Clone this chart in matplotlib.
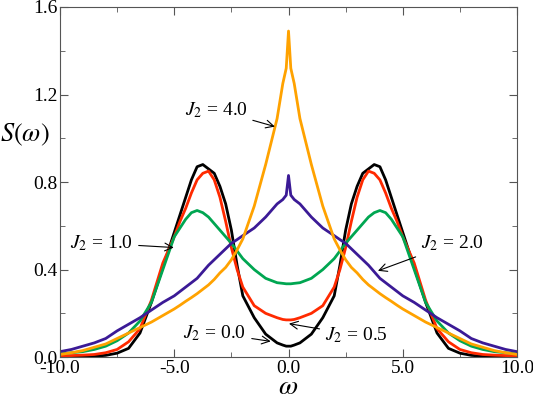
import matplotlib
matplotlib.use('Agg')
import matplotlib.pyplot as plt
from matplotlib.ticker import MultipleLocator, FormatStrFormatter

plt.rcParams['font.family'] = ['Liberation Serif', 'DejaVu Serif']
plt.rcParams['mathtext.fontset'] = 'stix'

# omega grid
w = [-10.0, -9.5, -9.0, -8.5, -8.0, -7.5, -7.0, -6.5, -6.0, -5.5, -5.0,
     -4.75, -4.5, -4.25, -4.0, -3.75, -3.5, -3.25, -3.0, -2.75, -2.5, -2.25,
     -2.0, -1.5, -1.0, -0.5, -0.25, -0.1,
     0.0,
     0.1, 0.25, 0.5, 1.0, 1.5, 2.0, 2.25, 2.5, 2.75, 3.0, 3.25, 3.5, 3.75,
     4.0, 4.25, 4.5, 4.75, 5.0, 5.5, 6.0, 6.5, 7.0, 7.5, 8.0, 8.5, 9.0, 9.5,
     10.0]

s_j00 = [0.001, 0.001, 0.002, 0.004, 0.008, 0.018, 0.04, 0.11, 0.25, 0.41, 0.57,
         0.65, 0.73, 0.81, 0.87, 0.88, 0.86, 0.84, 0.78, 0.70, 0.58, 0.42,
         0.28, 0.18, 0.105, 0.065, 0.055, 0.05,
         0.05,
         0.05, 0.055, 0.065, 0.105, 0.18, 0.28, 0.42, 0.58, 0.70, 0.78, 0.84,
         0.86, 0.88, 0.87, 0.81, 0.73, 0.65, 0.57, 0.41, 0.25, 0.11, 0.04,
         0.018, 0.008, 0.004, 0.002, 0.001, 0.001]

s_j05 = [0.006, 0.007, 0.009, 0.012, 0.02, 0.035, 0.07, 0.13, 0.26, 0.43, 0.55,
         0.62, 0.68, 0.75, 0.81, 0.84, 0.85, 0.81, 0.73, 0.62, 0.50, 0.40,
         0.32, 0.235, 0.20, 0.18, 0.172, 0.17,
         0.17,
         0.17, 0.172, 0.18, 0.20, 0.235, 0.32, 0.40, 0.50, 0.62, 0.73, 0.81,
         0.85, 0.84, 0.81, 0.75, 0.68, 0.62, 0.55, 0.43, 0.26, 0.13, 0.07,
         0.035, 0.02, 0.012, 0.009, 0.007, 0.006]

s_j10 = [0.015, 0.02, 0.025, 0.035, 0.05, 0.075, 0.11, 0.165, 0.25, 0.40, 0.55,
         0.59, 0.63, 0.66, 0.67, 0.66, 0.64, 0.61, 0.58, 0.55, 0.52, 0.485,
         0.45, 0.40, 0.36, 0.34, 0.337, 0.335,
         0.335,
         0.335, 0.337, 0.34, 0.36, 0.40, 0.45, 0.485, 0.52, 0.55, 0.58, 0.61,
         0.64, 0.66, 0.67, 0.66, 0.63, 0.59, 0.55, 0.40, 0.25, 0.165, 0.11,
         0.075, 0.05, 0.035, 0.025, 0.02, 0.015]

s_j20 = [0.025, 0.035, 0.05, 0.065, 0.085, 0.12, 0.15, 0.18, 0.215, 0.25, 0.28,
         0.30, 0.32, 0.34, 0.36, 0.39, 0.42, 0.445, 0.47, 0.495, 0.52, 0.537,
         0.555, 0.59, 0.64, 0.70, 0.72, 0.74,
         0.83,
         0.74, 0.72, 0.70, 0.64, 0.59, 0.555, 0.537, 0.52, 0.495, 0.47, 0.445,
         0.42, 0.39, 0.36, 0.34, 0.32, 0.30, 0.28, 0.25, 0.215, 0.18, 0.15,
         0.12, 0.085, 0.065, 0.05, 0.035, 0.025]

s_j40 = [0.012, 0.02, 0.03, 0.045, 0.06, 0.085, 0.11, 0.135, 0.16, 0.19, 0.22,
         0.237, 0.255, 0.272, 0.29, 0.31, 0.33, 0.355, 0.385, 0.41, 0.445, 0.49,
         0.54, 0.69, 0.88, 1.09, 1.25, 1.32,
         1.49,
         1.32, 1.25, 1.09, 0.88, 0.69, 0.54, 0.49, 0.445, 0.41, 0.385, 0.355,
         0.33, 0.31, 0.29, 0.272, 0.255, 0.237, 0.22, 0.19, 0.16, 0.135, 0.11,
         0.085, 0.06, 0.045, 0.03, 0.02, 0.012]

x_ticks = [-10.0, -5.0, 0.0, 5.0, 10.0]
y_ticks = [0.0, 0.4, 0.8, 1.2, 1.6]

fig = plt.figure(figsize=(5.33, 3.99), dpi=100)
ax = fig.add_axes([0.1126, 0.105, 0.8574, 0.8775])

ax.plot(w, s_j00, color='black', lw=2)
ax.plot(w, s_j05, color='#ff2a00', lw=2)
ax.plot(w, s_j10, color='#00a651', lw=2)
ax.plot(w, s_j20, color='#3b1a96', lw=2)
ax.plot(w, s_j40, color='#ffa200', lw=2)

ax.set_xlim(-10, 10)
ax.set_ylim(0, 1.6)
ax.set_xticks(x_ticks)
ax.set_yticks(y_ticks)
ax.xaxis.set_major_formatter(FormatStrFormatter('%.1f'))
ax.yaxis.set_major_formatter(FormatStrFormatter('%.1f'))
ax.xaxis.set_minor_locator(MultipleLocator(2.5))
ax.yaxis.set_minor_locator(MultipleLocator(0.2))
ax.tick_params(which='both', direction='in', top=True, right=True,
               colors='#555555', labelcolor='black', labelsize=14)
ax.tick_params(which='major', length=6, pad=2)
ax.tick_params(which='minor', length=3.5)
for sp in ax.spines.values():
    sp.set_color('#555555')

ax.text(-0.078, 0.635, r'$S(\omega)$', transform=ax.transAxes, fontsize=19,
        ha='center', va='center')
ax.text(0.5, -0.088, r'$\omega$', transform=ax.transAxes, fontsize=20,
        ha='center', va='center')

arw = dict(arrowstyle='->', color='black', lw=0.8)
ax.annotate(r'$J_2$ = 4.0', xy=(-0.48, 1.05), xytext=(-1.8, 1.13),
            fontsize=14, ha='right', va='center', arrowprops=arw)
ax.annotate(r'$J_2$ = 1.0', xy=(-4.9, 0.50), xytext=(-6.8, 0.52),
            fontsize=14, ha='right', va='center', arrowprops=arw)
ax.annotate(r'$J_2$ = 0.0', xy=(-0.66, 0.07), xytext=(-1.85, 0.11),
            fontsize=14, ha='right', va='center', arrowprops=arw)
ax.annotate(r'$J_2$ = 0.5', xy=(-0.1, 0.155), xytext=(1.6, 0.10),
            fontsize=14, ha='left', va='center', arrowprops=arw)
ax.annotate(r'$J_2$ = 2.0', xy=(3.8, 0.39), xytext=(5.8, 0.52),
            fontsize=14, ha='left', va='center', arrowprops=arw)

fig.savefig('out.png', dpi=100)
